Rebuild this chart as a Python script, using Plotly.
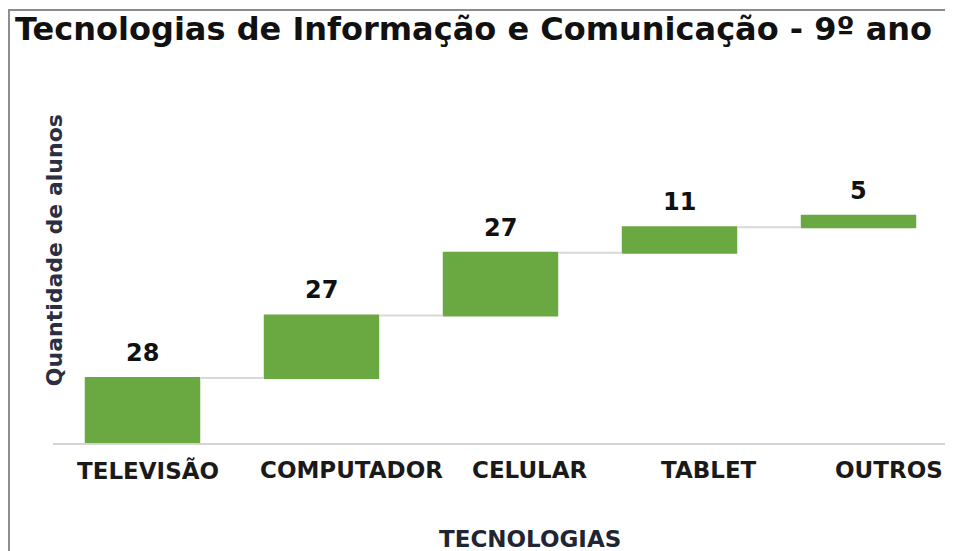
import plotly.graph_objects as go

# data
categorias = ['TELEVISÃO', 'COMPUTADOR', 'CELULAR', 'TABLET', 'OUTROS']
alunos = [28, 27, 27, 11, 5]
rotulos = [str(v) for v in alunos]

verde = '#6aa842'
fonte = 'DejaVu Sans, Liberation Sans, Arial'
# no original os nomes das categorias estão um pouco deslocados à direita
desloc_rotulo = [5, 30, 29, 29, 30]

fig = go.Figure(go.Waterfall(
    x=categorias,
    y=alunos,
    measure=['relative'] * len(alunos),
    increasing=dict(marker=dict(color=verde)),
    connector=dict(line=dict(color='#d9d9d9', width=2)),
    width=0.645,
    hoverinfo='x+y',
))

# rótulos de valor acima de cada barra
topo = 0
for cat, v, txt in zip(categorias, alunos, rotulos):
    topo += v
    fig.add_annotation(x=cat, y=topo, text='<b>' + txt + '</b>',
                       showarrow=False, yanchor='middle', yshift=25,
                       font=dict(family=fonte, size=24, color='#111111'))

# nomes das categorias
for cat, dx in zip(categorias, desloc_rotulo):
    fig.add_annotation(x=cat, y=0, yref='paper', text='<b>' + cat + '</b>',
                       showarrow=False, yanchor='middle', yshift=-27,
                       xshift=dx,
                       font=dict(family=fonte, size=23, color='#1a1a1a'))

fig.add_annotation(x=0.533, y=0, xref='paper', yref='paper',
                   text='<b>TECNOLOGIAS</b>', showarrow=False,
                   yanchor='middle', yshift=-96,
                   font=dict(family=fonte, size=23, color='#1f2533'))

fig.update_layout(
    width=945, height=543,
    margin=dict(l=45, r=5, t=94, b=108),
    paper_bgcolor='white', plot_bgcolor='white',
    showlegend=False,
    title=dict(text='<b>Tecnologias de Informação e Comunicação - 9º ano</b>',
               x=7 / 945, xref='container', xanchor='left',
               y=1 - 21 / 543, yref='container', yanchor='middle',
               font=dict(family=fonte, size=32, color='#111111'),
               pad=dict(l=0, t=0, b=0, r=0)),
    font=dict(family=fonte),
)

fig.update_xaxes(showgrid=False, showline=True, linecolor='#d4d4d4',
                 linewidth=2, ticks='', showticklabels=False)
fig.update_yaxes(range=[0, 147], showgrid=False, showticklabels=False,
                 zeroline=False, showline=False)

fig.add_annotation(
    text='<b>Quantidade de alunos</b>', textangle=-90,
    xref='paper', yref='paper', x=0.001, y=0.565,
    xanchor='center', yanchor='middle', showarrow=False,
    font=dict(family=fonte, size=22, color='#2b2f3f'),
)

# moldura cinza da imagem original
fig.add_shape(type='rect', xref='paper', yref='paper',
              x0=-0.0492, x1=1.2, y0=-1, y1=1.27,
              line=dict(color='#8c8c8c', width=2), layer='below')

fig.write_html('out.html')
